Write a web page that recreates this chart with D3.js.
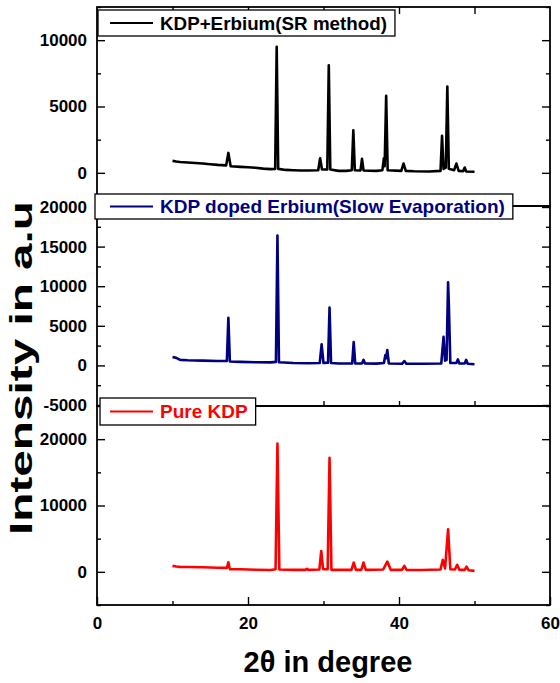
<html>
<head>
  <title>XRD KDP</title>
  <style>
    body { margin: 0; background: #fff; }
    text { font-family: "Liberation Sans", Arial, Helvetica, sans-serif; font-weight: bold; }
  </style>
</head>
<body>
<div id="chart-holder"></div>
<script src="https://d3js.org/d3.v7.min.js"></script>
<script>
// [2theta, intensity] pairs
var srMethod = [
  [10.0, 900], [10.5, 850], [11, 820], [12, 780], [13, 740], [14, 700], [15, 650], [16, 600],
  [17.1, 560], [17.4, 1500], [17.7, 500], [19, 450], [20, 420], [21, 380], [22, 320], [23, 280],
  [23.6, 300], [23.8, 9500], [24.0, 300], [25, 220], [26, 200], [27, 180], [28, 180],
  [29.3, 200], [29.55, 1100], [29.8, 250], [30.5, 250], [30.7, 8100], [30.9, 250],
  [32, 150], [33, 150], [33.75, 200], [33.95, 3200], [34.15, 200], [34.9, 180], [35.1, 1050],
  [35.3, 180], [37, 150], [37.8, 200], [38.0, 1100], [38.1, 500], [38.3, 5800], [38.5, 200],
  [40.3, 150], [40.6, 700], [40.9, 150], [42, 120], [44, 100], [45.5, 150], [45.7, 2800],
  [45.9, 300], [46.2, 400], [46.4, 6500], [46.6, 300], [47.3, 200], [47.6, 700], [47.9, 150],
  [48.5, 120], [48.7, 400], [48.9, 100], [50, 80]
];
var slowEvap = [
  [10, 1050], [10.5, 950], [11, 700], [12, 650], [14, 600], [16, 560], [17.2, 550],
  [17.4, 6000], [17.6, 500], [19, 450], [21, 400], [23, 380], [23.7, 450], [23.9, 16400],
  [24.1, 400], [26, 300], [28, 280], [29.5, 300], [29.75, 2650], [30.0, 300], [30.6, 350],
  [30.8, 7300], [31.0, 300], [32, 250], [33.8, 250], [34.0, 2950], [34.2, 250], [35.1, 250],
  [35.3, 700], [35.5, 250], [37, 220], [38.0, 300], [38.2, 1300], [38.3, 900], [38.45, 1950],
  [38.65, 250], [40.4, 200], [40.7, 550], [41.0, 200], [43, 200], [45.6, 250], [45.9, 3600],
  [46.1, 600], [46.3, 700], [46.5, 10500], [46.6, 7700], [46.8, 300], [47.6, 300],
  [47.8, 750], [48.0, 250], [48.7, 250], [48.9, 700], [49.1, 200], [50, 150]
];
var pureKdp = [
  [10, 900], [10.5, 800], [11, 750], [12, 720], [14, 680], [16, 620], [17.2, 600],
  [17.4, 1450], [17.6, 400], [19, 380], [21, 320], [23, 280], [23.65, 400], [23.9, 19350],
  [24.15, 350], [26, 300], [27.6, 300], [27.8, 450], [28, 300], [29.45, 350], [29.7, 3150],
  [29.95, 400], [30.55, 400], [30.8, 17200], [31.05, 300], [33.7, 300], [34.0, 1400],
  [34.3, 300], [35.0, 300], [35.3, 1400], [35.6, 300], [37.9, 350], [38.45, 1550],
  [38.9, 300], [40.4, 300], [40.7, 900], [41.0, 300], [43, 280], [45.5, 350], [45.8, 1800],
  [46.1, 500], [46.5, 6400], [46.8, 400], [47.4, 350], [47.7, 1050], [48.0, 300],
  [48.7, 300], [48.95, 800], [49.2, 250], [50, 150]
];

var seriesNames = ['KDP+Erbium(SR method)', 'KDP doped Erbium(Slow Evaporation)', 'Pure KDP'];
var seriesColors = ['#000000', '#000080', '#ff0000'];

// tick values
var xMajorTicks = [0, 20, 40, 60];
var xMinorTicks = [10, 30, 50];
var topMajor = [0, 5000, 10000];
var topMinor = [-2500, 2500, 7500, 12500];
var midMajor = [-5000, 0, 5000, 10000, 15000, 20000];
var midMinor = [-2500, 2500, 7500, 12500, 17500];
var botMajor = [0, 10000, 20000];
var botMinor = [-5000, 5000, 15000, 25000];

var width = 560;
var height = 683;
var left = 97, right = 550;

var svg = d3.select('#chart-holder')
  .append('svg')
  .attr('width', width)
  .attr('height', height);

var x = d3.scaleLinear().domain([0, 60]).range([left, right]);

// three stacked panels
var panels = [
  {data: srMethod, top: 7, bottom: 206, domain: [-2500, 12500], major: topMajor, minor: topMinor,
   legend: {x: 98, y: 10, h: 26, fs: 18.8}},
  {data: slowEvap, top: 206, bottom: 406, domain: [-5125, 20125], major: midMajor, minor: midMinor,
   legend: {x: 95, y: 194, h: 25, fs: 19}},
  {data: pureKdp, top: 406, bottom: 605, domain: [-5000, 25000], major: botMajor, minor: botMinor,
   legend: {x: 100, y: 398, h: 27, fs: 19}}
];

panels.forEach(function(p, i) {
  var y = d3.scaleLinear().domain(p.domain).range([p.bottom, p.top]);
  var g = svg.append('g');

  // frame
  g.append('rect')
    .attr('x', left).attr('y', p.top)
    .attr('width', right - left).attr('height', p.bottom - p.top)
    .attr('fill', 'none').attr('stroke', '#000').attr('stroke-width', 1.8);

  // y axes, ticks pointing inwards
  var la = g.append('g').attr('transform', 'translate(' + left + ',0)')
    .call(d3.axisLeft(y).tickValues(p.major).tickSize(-8).tickPadding(10)
      .tickFormat(function(d) { return String(d); }));
  g.append('g').attr('transform', 'translate(' + left + ',0)')
    .call(d3.axisLeft(y).tickValues(p.minor).tickSize(-4).tickFormat(''));
  g.append('g').attr('transform', 'translate(' + right + ',0)')
    .call(d3.axisRight(y).tickValues(p.major).tickSize(-8).tickFormat(''));
  g.append('g').attr('transform', 'translate(' + right + ',0)')
    .call(d3.axisRight(y).tickValues(p.minor).tickSize(-4).tickFormat(''));
  la.selectAll('text').style('font-size', '17px').attr('fill', '#000');

  // x ticks
  if (i === 0) {
    g.append('g').attr('transform', 'translate(0,' + p.top + ')')
      .call(d3.axisTop(x).tickValues([10, 20, 30, 40, 50]).tickSize(-7).tickFormat(''));
  }
  if (i === 1) {
    g.append('g').attr('transform', 'translate(0,' + p.bottom + ')')
      .call(d3.axisBottom(x).tickValues([10, 20, 30, 40, 50]).tickSize(-5).tickFormat(''));
  }
  if (i === 2) {
    var xa = g.append('g').attr('transform', 'translate(0,' + p.bottom + ')')
      .call(d3.axisBottom(x).tickValues(xMajorTicks).tickSize(-8).tickPadding(12));
    g.append('g').attr('transform', 'translate(0,' + p.bottom + ')')
      .call(d3.axisBottom(x).tickValues(xMinorTicks).tickSize(-4).tickFormat(''));
    xa.selectAll('text').style('font-size', '17px').attr('fill', '#000');
  }

  g.selectAll('.domain').remove();
  g.selectAll('.tick line').attr('stroke', '#000').attr('stroke-width', 1.4);

  // spectrum
  var pline = d3.line()
    .x(function(d) { return x(d[0]); })
    .y(function(d) { return y(d[1]); });
  g.append('path')
    .datum(p.data)
    .attr('fill', 'none')
    .attr('stroke', seriesColors[i])
    .attr('stroke-width', 2.6)
    .attr('stroke-linejoin', 'round')
    .attr('d', pline);
});

// legends drawn last so they sit on top of the axes
panels.forEach(function(p, i) {
  var lg = svg.append('g');
  var box = lg.append('rect')
    .attr('x', p.legend.x).attr('y', p.legend.y)
    .attr('height', p.legend.h)
    .attr('fill', '#fff').attr('stroke', '#000').attr('stroke-width', 1.3);
  var cy = p.legend.y + p.legend.h / 2;
  lg.append('line')
    .attr('x1', 110).attr('x2', 153).attr('y1', cy).attr('y2', cy)
    .attr('stroke', seriesColors[i]).attr('stroke-width', 2.2);
  var t = lg.append('text')
    .attr('x', 160).attr('y', cy + 6.8)
    .attr('fill', seriesColors[i])
    .style('font-size', p.legend.fs + 'px')
    .text(seriesNames[i]);
  var tw = t.node().getComputedTextLength();
  box.attr('width', 160 + tw + 8 - p.legend.x);
});

// axis titles
svg.append('text')
  .attr('x', 328).attr('y', 672)
  .attr('text-anchor', 'middle')
  .style('font-size', '29px')
  .text('2\u03b8 in degree');

svg.append('text')
  .attr('transform', 'translate(32,368) rotate(-90)')
  .attr('text-anchor', 'middle')
  .attr('textLength', 334)
  .attr('lengthAdjust', 'spacingAndGlyphs')
  .style('font-size', '31px')
  .text('Intensity in a.u');
</script>
</body>
</html>
